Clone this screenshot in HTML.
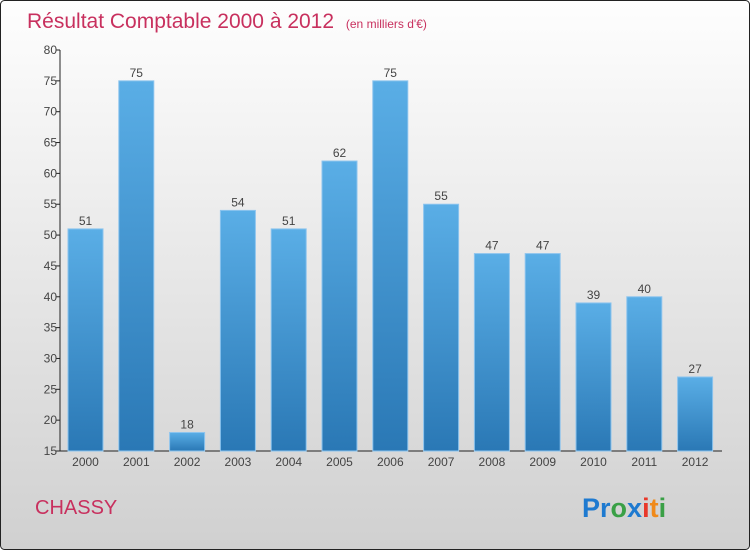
<!DOCTYPE html>
<html><head><meta charset="utf-8"><style>
body{margin:0;}
#c{width:750px;height:550px;position:relative;overflow:hidden;font-family:"Liberation Sans",sans-serif;}
</style></head><body>
<div id="c">
<svg width="750" height="550" xmlns="http://www.w3.org/2000/svg">
<defs>
<linearGradient id="bg" x1="0" y1="0" x2="0" y2="1"><stop offset="0" stop-color="#fefefe"/><stop offset="1" stop-color="#d0d0d0"/></linearGradient>
<linearGradient id="bar" x1="0" y1="0" x2="0" y2="1"><stop offset="0" stop-color="#5aaee6"/><stop offset="1" stop-color="#2a78b5"/></linearGradient>
</defs>
<rect x="0.5" y="0.5" width="749" height="549" rx="4" fill="url(#bg)" stroke="#222"/>
<text x="27" y="28" font-size="21" fill="#c8305e">Résultat Comptable 2000 à 2012 <tspan font-size="12" dx="6">(en milliers d'€)</tspan></text>
<g id="plot"></g>
<text x="35" y="514" font-size="20" fill="#c8305e">CHASSY</text>
<text x="582" y="517" font-size="27" font-weight="bold"><tspan fill="#1e7ad0">Pr</tspan><tspan fill="#3aa046">o</tspan><tspan fill="#1e7ad0">x</tspan><tspan fill="#e8382a">i</tspan><tspan fill="#f08a1a">t</tspan><tspan fill="#3aa046">i</tspan></text>
</svg>
</div>
<script>
const categories=["2000","2001","2002","2003","2004","2005","2006","2007","2008","2009","2010","2011","2012"];
const values=[51,75,18,54,51,62,75,55,47,47,39,40,27];
const yTicks=[15,20,25,30,35,40,45,50,55,60,65,70,75,80];
const NS="http://www.w3.org/2000/svg";
const plotG=document.getElementById('plot');
const yMin=15,yMax=80,plotTop=50,plotBot=451,axX=60;
const yScale=v=>plotBot-(v-yMin)/(yMax-yMin)*(plotBot-plotTop);
const x0=68,step=50.8,bw=35;
function mk(t,a){const e=document.createElementNS(NS,t);for(const k in a)e.setAttribute(k,a[k]);plotG.appendChild(e);return e;}
let ax=mk('line',{x1:axX,y1:plotTop,x2:axX,y2:plotBot,stroke:'#222'});


let xa=mk('line',{x1:axX,y1:plotBot,x2:722,y2:plotBot,stroke:'#222'});


yTicks.forEach(t=>{
 const l=mk('line',{x1:axX-4,y1:yScale(t),x2:axX,y2:yScale(t),stroke:'#222'});
 
 
 const tx=mk('text',{x:axX-3,y:yScale(t)+4,'font-size':12,fill:'#444','text-anchor':'end'});
 tx.textContent=t;
 
 
});
categories.forEach((c,i)=>{
 const bx=x0+i*step,v=values[i];
 const r=mk('rect',{x:bx,y:yScale(v),width:bw,height:plotBot-yScale(v),fill:'url(#bar)',stroke:'#8cc4ee','stroke-width':1});
 
 
 const vl=mk('text',{x:bx+bw/2,y:yScale(v)-4,'font-size':12,fill:'#444','text-anchor':'middle'});
 vl.textContent=v;
 
 
 const cl=mk('text',{x:bx+bw/2,y:plotBot+15,'font-size':12,fill:'#444','text-anchor':'middle'});
 cl.textContent=c;
 
 
});
</script>
</body></html>
